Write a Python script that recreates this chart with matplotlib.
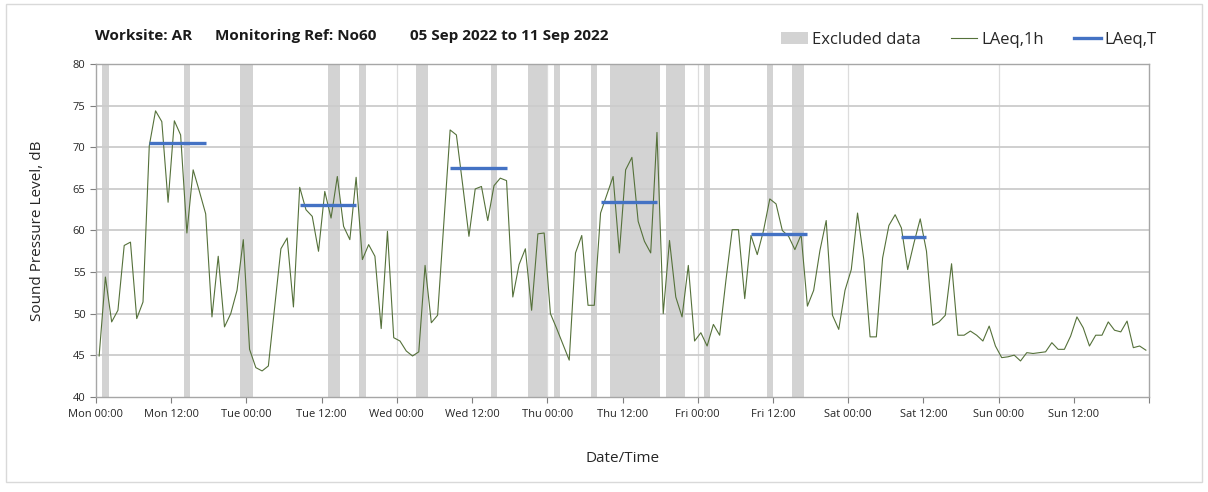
import matplotlib.pyplot as plt
from matplotlib.patches import Patch, Rectangle
from matplotlib.lines import Line2D

plt.rcParams['font.family'] = ['Open Sans', 'DejaVu Sans']

# hourly LAeq,1h values (dB), hour 0 = Mon 05 Sep 2022 00:00
mon = [44.9, 54.4, 49.0, 50.4, 58.2, 58.6, 49.4, 51.4, 70.2, 74.4, 73.1, 63.4,
       73.2, 71.5, 59.7, 67.3, 64.7, 62.0, 49.6, 56.9, 48.4, 50.0, 52.8, 58.9]
tue = [45.7, 43.5, 43.1, 43.7, 50.8, 57.8, 59.1, 50.8, 65.2, 62.5, 61.7, 57.5,
       64.7, 61.5, 66.5, 60.5, 58.9, 66.4, 56.5, 58.3, 56.9, 48.2, 59.9, 47.1]
wed = [46.7, 45.5, 44.9, 45.4, 55.8, 48.9, 49.8, 61.0, 72.1, 71.5, 65.5, 59.3,
       65.0, 65.3, 61.2, 65.4, 66.3, 66.0, 52.0, 55.9, 57.8, 50.4, 59.6, 59.7]
thu = [50.0, 48.2, 46.3, 44.4, 57.3, 59.4, 51.0, 51.0, 62.1, 64.3, 66.5, 57.3,
       67.3, 68.8, 61.1, 58.7, 57.3, 71.8, 50.0, 58.8, 52.0, 49.6, 55.8, 46.7]
fri = [47.7, 46.1, 48.7, 47.4, 54.0, 60.1, 60.1, 51.8, 59.4, 57.1, 60.0, 63.8,
       63.2, 60.0, 59.3, 57.7, 59.5, 50.9, 52.8, 57.6, 61.2, 49.8, 48.1, 52.8]
sat = [55.3, 62.1, 56.5, 47.2, 47.2, 56.7, 60.6, 61.9, 60.3, 55.3, 58.5, 61.4,
       57.5, 48.6, 49.0, 49.8, 56.0, 47.4, 47.4, 47.9, 47.4, 46.7, 48.5, 46.1]
sun = [44.7, 44.8, 45.0, 44.3, 45.3, 45.2, 45.3, 45.4, 46.5, 45.7, 45.7, 47.3,
       49.6, 48.3, 46.1, 47.4, 47.4, 49.0, 48.0, 47.8, 49.1, 45.9, 46.1, 45.6]
laeq_1h = mon + tue + wed + thu + fri + sat + sun
hours = [h + 0.5 for h in range(len(laeq_1h))]

# excluded periods (start hour, end hour)
excl_start = [1, 14, 23, 37, 42, 51, 63, 69, 73, 79, 82, 91, 97, 107, 111]
excl_end = [2, 15, 25, 39, 43, 53, 64, 72, 74, 80, 90, 94, 98, 108, 113]

# LAeq,T daytime values
t_start = [8.5, 32.5, 56.5, 80.5, 104.5, 128.5]
t_end = [17.5, 41.5, 65.5, 89.5, 113.5, 132.5]
t_value = [70.55, 63.1, 67.5, 63.4, 59.6, 59.2]

tick_labels = ['Mon 00:00', 'Mon 12:00', 'Tue 00:00', 'Tue 12:00', 'Wed 00:00',
               'Wed 12:00', 'Thu 00:00', 'Thu 12:00', 'Fri 00:00', 'Fri 12:00',
               'Sat 00:00', 'Sat 12:00', 'Sun 00:00', 'Sun 12:00', '']

green = '#55713a'
blue = '#4472c4'
band = '#d3d3d3'
txt = '#262626'

fig = plt.figure(figsize=(12.08, 4.92), dpi=100)
fig.patches.append(Rectangle((6 / 1208, 10 / 492), 1196 / 1208, 478 / 492,
                             transform=fig.transFigure, fill=False,
                             edgecolor='#d9d9d9', linewidth=1))
ax = fig.add_axes([96 / 1208, 1 - 396.7 / 492, 1053 / 1208, 332.4 / 492])

for s, e in zip(excl_start, excl_end):
    ax.axvspan(s, e, color=band, lw=0, zorder=1)

ax.plot(hours, laeq_1h, color=green, lw=0.8, zorder=3)
ax.hlines(t_value, t_start, t_end, color=blue, lw=2.4, zorder=4)

ax.set_xlim(0, 168)
ax.set_ylim(40, 80)
ax.set_yticks(range(40, 81, 5))
ax.set_xticks(range(0, 169, 12))
ax.set_xticklabels(tick_labels)
ax.tick_params(axis='both', labelsize=8, colors='#7f7f7f', labelcolor=txt,
               length=4, width=0.8)
ax.tick_params(axis='x', pad=5)

for y in range(45, 80, 5):
    ax.axhline(y, color='#cccccc', lw=1.3, zorder=2)
for x in range(24, 168, 24):
    ax.axvline(x, color='#dcdcdc', lw=0.9, zorder=0.5)
for sp in ax.spines.values():
    sp.set_color('#a6a6a6')
    sp.set_linewidth(1.0)

ax.set_ylabel('Sound Pressure Level, dB', fontsize=11, color=txt, labelpad=20)
ax.set_xlabel('Date/Time', fontsize=11, color=txt, labelpad=22)

fig.text(95 / 1208, 1 - 36 / 492, 'Worksite: AR', fontsize=11, fontweight='bold',
         va='center', color='#1a1a1a')
fig.text(215 / 1208, 1 - 36 / 492, 'Monitoring Ref: No60', fontsize=11,
         fontweight='bold', va='center', color='#1a1a1a')
fig.text(410 / 1208, 1 - 36 / 492, '05 Sep 2022 to 11 Sep 2022', fontsize=11,
         fontweight='bold', va='center', color='#1a1a1a')

handles = [Patch(facecolor=band, edgecolor='none'),
           Line2D([], [], color=green, lw=0.8),
           Line2D([], [], color=blue, lw=2.4)]
fig.legend(handles, ['Excluded data', 'LAeq,1h', 'LAeq,T'], ncol=3,
           loc='center right', bbox_to_anchor=(1172 / 1208, 1 - 40 / 492),
           frameon=False, fontsize=12, handlelength=1.6, handletextpad=0.25,
           columnspacing=1.8, labelcolor=txt)

fig.savefig('out.png', dpi=100)
